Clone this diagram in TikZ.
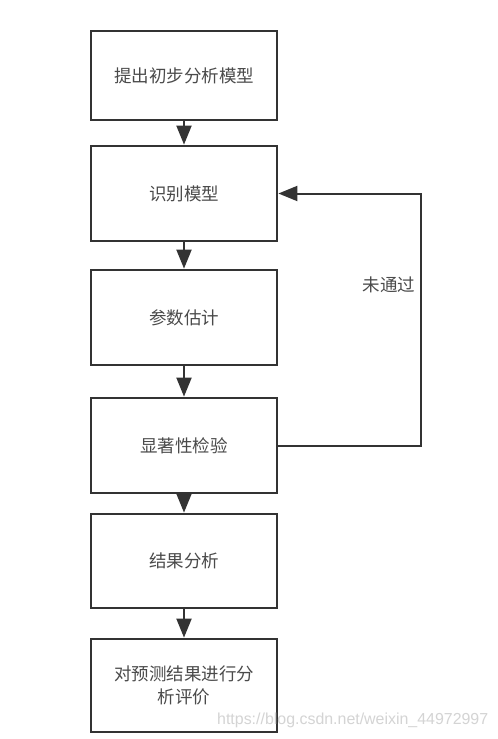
\documentclass[tikz,border=0pt]{standalone}
\usepackage{fontspec}
\newfontfamily\cjk{Noto Sans CJK SC}
\setsansfont{Liberation Sans}
\usetikzlibrary{arrows.meta}
\definecolor{edge}{HTML}{333333}
\definecolor{txt}{HTML}{4A4A4A}
\definecolor{wm}{HTML}{D4D4D4}
\begin{document}
\begin{tikzpicture}[x=1pt,y=-1pt,
  stepbox/.style={draw=edge,line width=2.8pt,fill=white,minimum width=186pt,
    text=txt,font=\cjk\fontsize{17.5}{23}\selectfont,align=center,inner sep=0pt},
  conn/.style={draw=edge,line width=2pt,-{Triangle[length=19pt,width=15pt]}}]
\useasboundingbox (0,0) rectangle (498,739);
\fill[white] (0,0) rectangle (498,739);
\node[stepbox,minimum height=89pt] (b1) at (184,75.5) {提出初步分析模型};
\node[stepbox,minimum height=95pt] (b2) at (184,193.5) {识别模型};
\node[stepbox,minimum height=95pt] (b3) at (184,317.5) {参数估计};
\node[stepbox,minimum height=95pt] (b4) at (184,445.5) {显著性检验};
\node[stepbox,minimum height=94pt] (b5) at (184,561) {结果分析};
\node[stepbox,minimum height=93pt] (b6) at (184,685.5) {对预测结果进行分\\析评价};
\draw[conn] (b1) -- (b2);
\draw[conn] (b2) -- (b3);
\draw[conn] (b3) -- (b4);
\draw[conn] (b4) -- (b5);
\draw[conn] (b5) -- (b6);
\coordinate (c1) at (421,445.5);
\coordinate (c2) at (421,193.5);
\draw[conn] (b4.east) -- (c1) -- (c2) -- (b2.east);
\node[text=txt,font=\cjk\fontsize{17.5}{23}\selectfont,inner sep=0pt] (lab) at (389,285) {未通过};
\node[text=wm,inner sep=0pt,anchor=west] (wmk) at (217,720) {\resizebox{271pt}{!}{\sffamily https://blog.csdn.net/weixin\_44972997}};
\end{tikzpicture}
\end{document}
